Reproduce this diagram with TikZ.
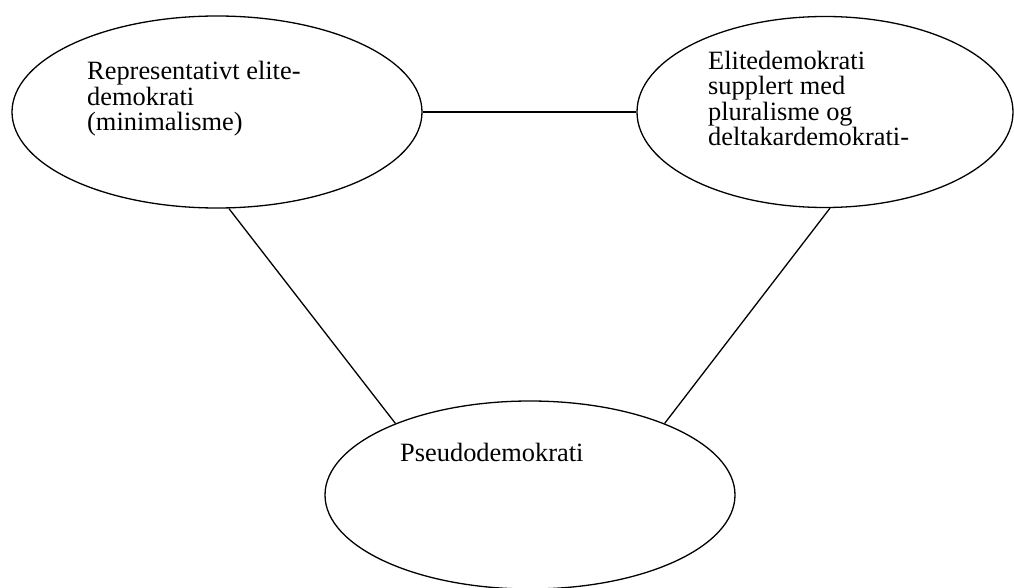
\documentclass[tikz,border=0pt]{standalone}
\usepackage{fontspec}
\setmainfont{Liberation Serif}
\usetikzlibrary{shapes.geometric}
\begin{document}
\begin{tikzpicture}[x=1pt,y=-1pt,
  oval/.style={draw=black,line width=1.3pt,ellipse,inner sep=0pt},
  lbl/.style={anchor=base west,align=left,inner sep=0pt,font=\fontsize{26.4}{25.5}\selectfont},
  conn/.style={draw=black,line width=1.3pt}]
\useasboundingbox (0,0) rectangle (1014,588);
\fill[white] (0,0) rectangle (1014,588);
\node[oval,minimum width=410pt,minimum height=192pt] (e1) at (217,112) {};
\node[oval,minimum width=376pt,minimum height=191pt] (e2) at (825,112) {};
\node[oval,minimum width=410pt,minimum height=188pt] (e3) at (530,495) {};
\node[lbl] (t1) at (87,131) {Representativt elite-\\demokrati\\(minimalisme)};
\node[lbl] (t2) at (708,146) {Elitedemokrati\\supplert med\\pluralisme og\\deltakardemokrati-};
\node[lbl] (t3) at (400,461) {Pseudodemokrati};
\draw[conn] (e1.east) -- (e2.west);
\draw[conn] (e1.-83) -- (e3.152);
\draw[conn] (e2.-87) -- (e3.28);
\end{tikzpicture}
\end{document}
